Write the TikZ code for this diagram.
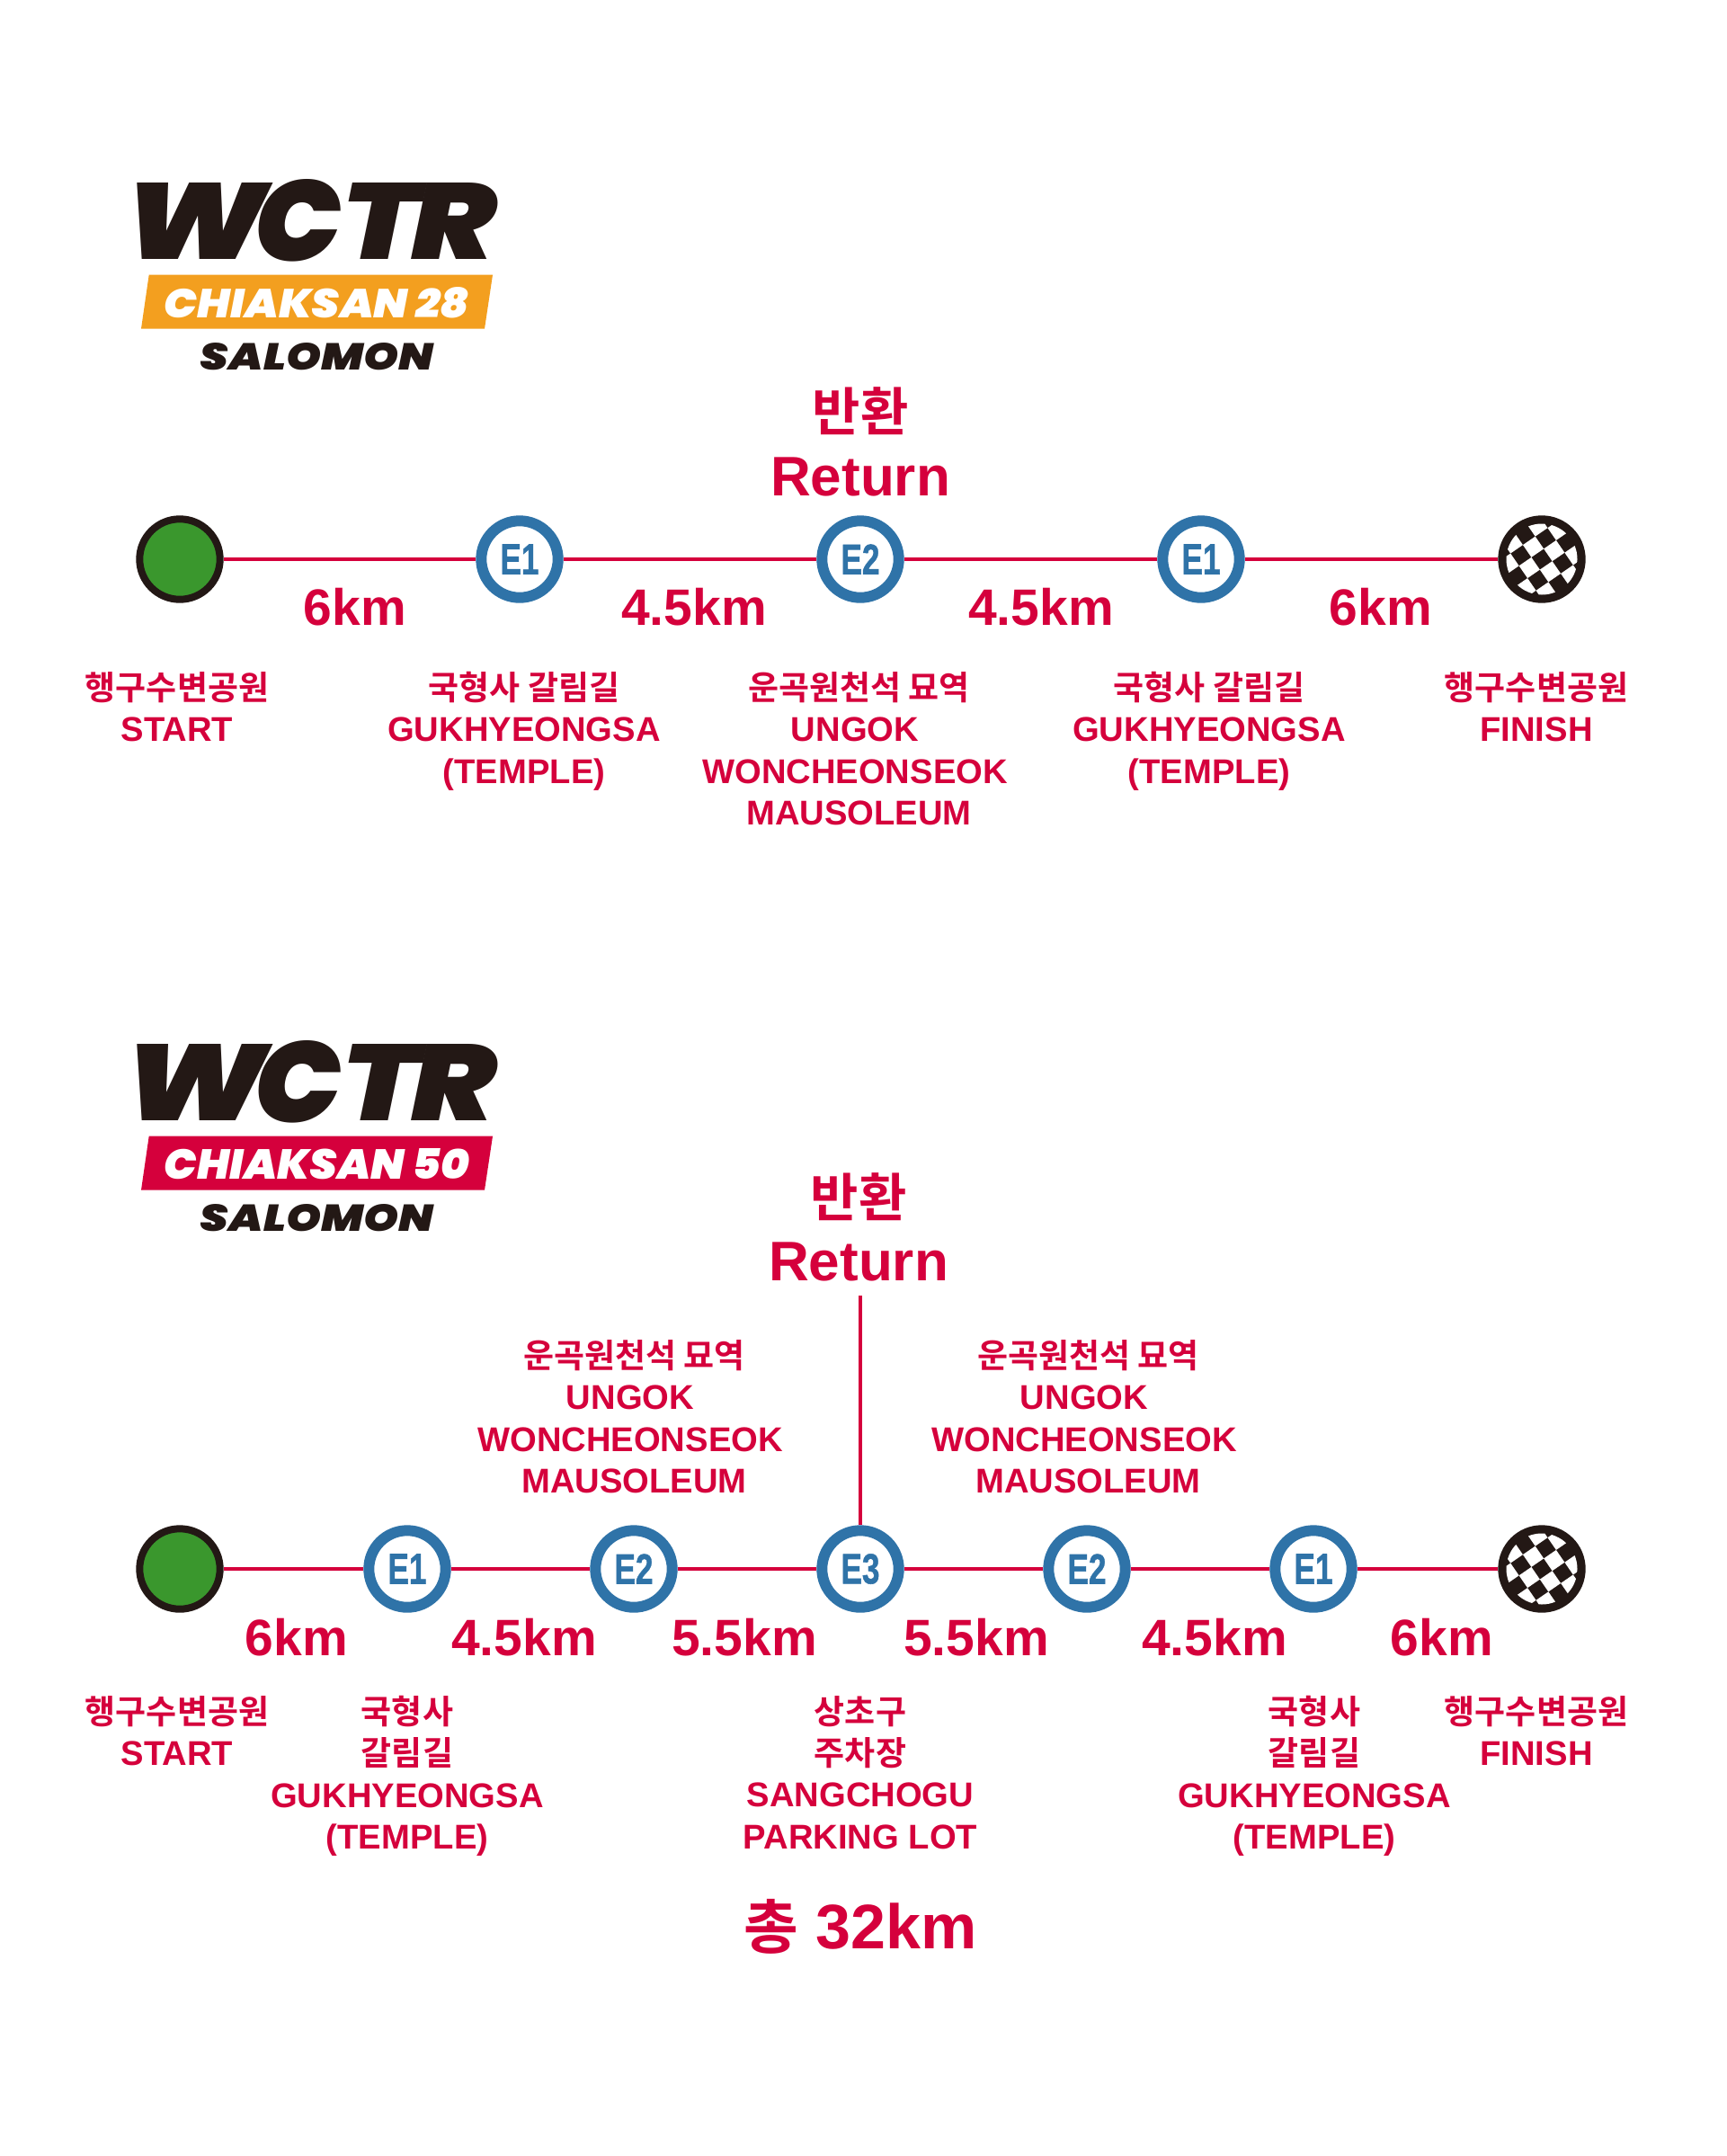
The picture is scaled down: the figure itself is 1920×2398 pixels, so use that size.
\documentclass[tikz,border=0pt]{standalone}
\usepackage{fontspec}
\setmainfont{Liberation Sans}
\newfontfamily\kr{Noto Sans CJK KR}[UprightFont=*,BoldFont=* Bold]
\newfontfamily\logofont{Poppins}[UprightFont=* Black,ItalicFont=* Black Italic]
\newfontfamily\stopfont{Liberation Sans Bold}[FakeBold=1.2]
\definecolor{rred}{HTML}{D5003C}
\definecolor{rdark}{HTML}{231815}
\definecolor{rgreen}{HTML}{3A972D}
\definecolor{rblue}{HTML}{2F73A8}
\definecolor{rorange}{HTML}{F39F1F}
\tikzset{
 route/.style={draw=rred,line width=4pt},
 startdot/.style={circle,draw=rdark,fill=rgreen,line width=8pt,minimum size=89.4pt,inner sep=0pt},
 stopdot/.style={circle,draw=rblue,fill=white,line width=12pt,minimum size=85.4pt,inner sep=0pt,text=rblue},
 enddot/.style={circle,minimum size=97.4pt,inner sep=0pt},
 place/.style={text=rred,align=center,inner sep=0pt,font=\bfseries\fontsize{38.2}{46.4}\selectfont},
 dist/.style={text=rred,inner sep=0pt,font=\bfseries\fontsize{57}{57}\selectfont},
 big/.style={text=rred,inner sep=0pt,font=\bfseries\fontsize{58}{58}\selectfont},
}
\newcommand{\krl}[1]{{\kr\bfseries\fontsize{37}{46.4}\selectfont #1}}
\newcommand{\stoplab}[1]{\resizebox{43pt}{33pt}{\stopfont #1}}
\newcommand{\mlabel}{\hspace*{9pt}\krl{운곡원천석 묘역}\\UNGOK\\WONCHEONSEOK\\\hspace*{9pt}MAUSOLEUM}
\newcommand{\wlogo}[4]{% y offset, band colour, band text, name
 \node[inner sep=0pt,text=rdark,font=\logofont\itshape] (#4w) at (344.5,{245.5+#1}) {%
   \resizebox{160pt}{85pt}{W}\kern-14pt\raisebox{-2.5pt}{\resizebox{96pt}{91pt}{C}}\kern1pt\resizebox{86pt}{85pt}{T}\kern-9pt\resizebox{94pt}{85pt}{R}};
 \fill[#2] (165.7,{305.7+#1}) -- (548,{305.7+#1}) -- (539,{365.7+#1}) -- (157,{365.7+#1}) -- cycle;
 \node[inner sep=0pt] (#4b) at (352.5,{336.5+#1}) {\resizebox{339pt}{34pt}{\textcolor{white}{\logofont\itshape #3}}};
 \node[inner sep=0pt] (#4s) at (352.5,{396.5+#1}) {\resizebox{259pt}{30pt}{\textcolor{rdark}{\logofont\itshape SALOMON}}};
}
\newcommand{\checkers}[1]{% node name
 \fill[rdark] (#1) circle (48.7);
 \begin{scope}
 \clip (#1) circle (39.5);
 \begin{scope}[shift={(#1)},rotate=34.5]
 \foreach \i in {-4,...,4}{\foreach \j in {-4,...,4}{
   \pgfmathparse{int(mod(\i+\j+8,2))}
   \ifnum\pgfmathresult=1
    \fill[white] ({(\i-.5)*16.7},{(\j-.5)*16.7}) rectangle ++(16.7,16.7);
   \fi}}
 \end{scope}
 \end{scope}
}
\begin{document}
\begin{tikzpicture}[x=1pt,y=-1pt]
\useasboundingbox (0,0) rectangle (1920,2398);
\fill[white] (0,0) rectangle (1920,2398);
% ---------- top
\wlogo{0}{rorange}{CHIAKSAN 28}{a}
\node[big] (ar1) at (957,457) {\kr 반환};
\node[big,font=\bfseries\fontsize{62}{62}\selectfont] (ar2) at (957,530) {Return};
\node[startdot] (a0) at (200,622) {};
\node[stopdot] (a1) at (578,622) {\stoplab{E1}};
\node[stopdot] (a2) at (957,622) {\stoplab{E2}};
\node[stopdot] (a3) at (1336,622) {\stoplab{E1}};
\node[enddot] (a4) at (1715,622) {};
\draw[route] (a0) -- (a1);
\draw[route] (a1) -- (a2);
\draw[route] (a2) -- (a3);
\draw[route] (a3) -- (a4);
\checkers{a4}
\node[dist] (ad1) at (395,675) {6km};
\node[dist] (ad2) at (772,675) {4.5km};
\node[dist] (ad3) at (1158,675) {4.5km};
\node[dist] (ad4) at (1536,675) {6km};
\node[place,anchor=north] (al0) at (197,747) {\krl{행구수변공원}\\START};
\node[place,anchor=north] (al1) at (583,747) {\krl{국형사 갈림길}\\GUKHYEONGSA\\(TEMPLE)};
\node[place,anchor=north] (al2) at (951,747) {\mlabel};
\node[place,anchor=north] (al3) at (1345,747) {\krl{국형사 갈림길}\\GUKHYEONGSA\\(TEMPLE)};
\node[place,anchor=north] (al4) at (1709,747) {\krl{행구수변공원}\\FINISH};
% ---------- bottom
\wlogo{958}{rred}{CHIAKSAN 50}{b}
\node[big] (br1) at (955,1331) {\kr 반환};
\node[big,font=\bfseries\fontsize{62}{62}\selectfont] (br2) at (955,1403) {Return};
\node[startdot] (b0) at (200,1745) {};
\node[stopdot] (b1) at (453,1745) {\stoplab{E1}};
\node[stopdot] (b2) at (705,1745) {\stoplab{E2}};
\node[stopdot] (b3) at (957,1745) {\stoplab{E3}};
\node[stopdot] (b4) at (1209,1745) {\stoplab{E2}};
\node[stopdot] (b5) at (1461,1745) {\stoplab{E1}};
\node[enddot] (b6) at (1715,1745) {};
\draw[route] (b0) -- (b1);
\draw[route] (b1) -- (b2);
\draw[route] (b2) -- (b3);
\draw[route] (b3) -- (b4);
\draw[route] (b4) -- (b5);
\draw[route] (b5) -- (b6);
\coordinate (btop) at (957,1441);
\draw[route] (btop) -- (b3);
\checkers{b6}
\node[dist] (bd1) at (330,1821) {6km};
\node[dist] (bd2) at (583,1821) {4.5km};
\node[dist] (bd3) at (828,1821) {5.5km};
\node[dist] (bd4) at (1086,1821) {5.5km};
\node[dist] (bd5) at (1351,1821) {4.5km};
\node[dist] (bd6) at (1604,1821) {6km};
\node[place,anchor=north] (bu1) at (701,1490) {\mlabel};
\node[place,anchor=north] (bu2) at (1206,1490) {\mlabel};
\node[place,anchor=north] (bl0) at (197,1886) {\krl{행구수변공원}\\START};
\node[place,anchor=north] (bl1) at (453,1886) {\krl{국형사}\\\krl{갈림길}\\GUKHYEONGSA\\(TEMPLE)};
\node[place,anchor=north] (bl3) at (957,1886) {\krl{상초구}\\\krl{주차장}\\SANGCHOGU\\PARKING LOT};
\node[place,anchor=north] (bl5) at (1462,1886) {\krl{국형사}\\\krl{갈림길}\\GUKHYEONGSA\\(TEMPLE)};
\node[place,anchor=north] (bl6) at (1709,1886) {\krl{행구수변공원}\\FINISH};
\node[big,font=\bfseries\fontsize{70}{70}\selectfont] (total) at (957,2143) {{\kr\fontsize{66}{66}\selectfont 총} 32km};
\end{tikzpicture}
\end{document}
